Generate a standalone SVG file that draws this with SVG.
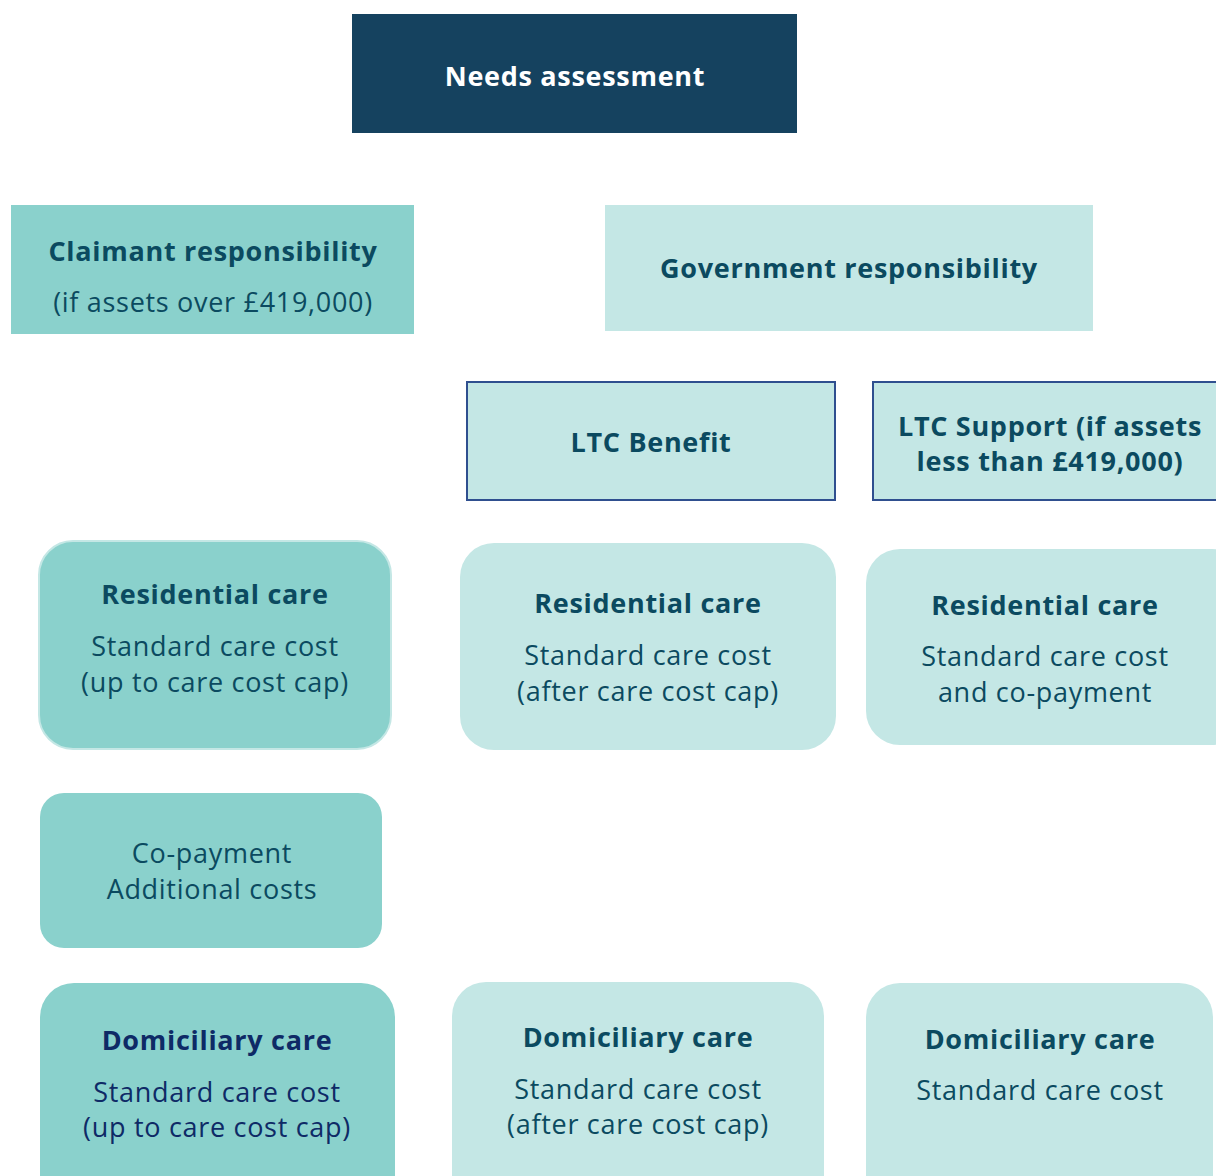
<svg xmlns="http://www.w3.org/2000/svg" width="1216" height="1176" viewBox="0 0 1216 1176">
<style>
.t{font-family:"Open Sans","Noto Sans","Liberation Sans",sans-serif;text-anchor:middle;fill:#0B4A60;letter-spacing:0.7px}
.b{font-weight:bold;font-size:27px}
.r{font-size:27px}
.dark{fill:#8AD1CC}
.light{fill:#C4E7E5}
.ltc{fill:#C4E7E5;stroke:#2F4F8F;stroke-width:2}
</style>
<rect width="1216" height="1176" fill="#ffffff"/>
<g id="connectors"/>
<g id="needs">
<rect x="352" y="14" width="445" height="119" fill="#15425F"/>
<text class="t b" x="575" y="86" style="fill:#ffffff">Needs assessment</text>
</g>
<g id="claimant">
<rect class="dark" x="11" y="205" width="403" height="129"/>
<text class="t b" x="213" y="261">Claimant responsibility</text>
<text class="t r" x="213" y="312">(if assets over £419,000)</text>
</g>
<g id="government">
<rect class="light" x="605" y="205" width="488" height="126"/>
<text class="t b" x="849" y="278">Government responsibility</text>
</g>
<g id="ltc-benefit">
<rect class="ltc" x="467" y="382" width="368" height="118"/>
<text class="t b" x="651" y="452">LTC Benefit</text>
</g>
<g id="ltc-support">
<rect class="ltc" x="873" y="382" width="360" height="118"/>
<text class="t b" x="1050" y="436">LTC Support (if assets</text>
<text class="t b" x="1050" y="471">less than £419,000)</text>
</g>
<g id="res-claimant">
<rect class="dark" x="39" y="541" width="352" height="208" rx="34" stroke="#C4E7E5" stroke-width="2"/>
<text class="t b" x="215" y="604">Residential care</text>
<text class="t r" x="215" y="656">Standard care cost</text>
<text class="t r" x="215" y="692">(up to care cost cap)</text>
</g>
<g id="res-benefit">
<rect class="light" x="460" y="543" width="376" height="207" rx="34"/>
<text class="t b" x="648" y="613">Residential care</text>
<text class="t r" x="648" y="665">Standard care cost</text>
<text class="t r" x="648" y="701">(after care cost cap)</text>
</g>
<g id="res-support">
<rect class="light" x="866" y="549" width="380" height="196" rx="34"/>
<text class="t b" x="1045" y="615">Residential care</text>
<text class="t r" x="1045" y="666">Standard care cost</text>
<text class="t r" x="1045" y="702">and co-payment</text>
</g>
<g id="copayment">
<rect class="dark" x="40" y="793" width="342" height="155" rx="24"/>
<text class="t r" x="212" y="863">Co-payment</text>
<text class="t r" x="212" y="899">Additional costs</text>
</g>
<g id="dom-claimant">
<rect class="dark" x="40" y="983" width="355" height="230" rx="34"/>
<text class="t b" x="217" y="1050" style="fill:#0E2A66">Domiciliary care</text>
<text class="t r" x="217" y="1102" style="fill:#0E2A66">Standard care cost</text>
<text class="t r" x="217" y="1137" style="fill:#0E2A66">(up to care cost cap)</text>
</g>
<g id="dom-benefit">
<rect class="light" x="452" y="982" width="372" height="230" rx="34"/>
<text class="t b" x="638" y="1047">Domiciliary care</text>
<text class="t r" x="638" y="1099">Standard care cost</text>
<text class="t r" x="638" y="1134">(after care cost cap)</text>
</g>
<g id="dom-support">
<rect class="light" x="866" y="983" width="347" height="230" rx="34"/>
<text class="t b" x="1040" y="1049">Domiciliary care</text>
<text class="t r" x="1040" y="1100">Standard care cost</text>
</g>
</svg>
